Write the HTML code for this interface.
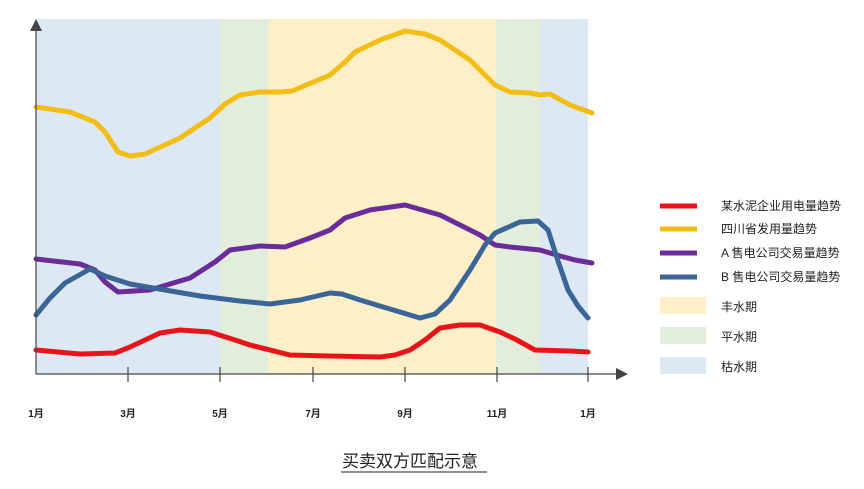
<!DOCTYPE html>
<html><head><meta charset="utf-8"><style>
body{margin:0;background:#fff;}
svg{display:block;font-family:"Liberation Sans","Noto Sans CJK SC",sans-serif;}
</style></head><body>
<svg width="864" height="489" viewBox="0 0 864 489">
<rect x="36" y="19" width="184" height="355" fill="#dde8f5"/>
<rect x="220" y="19" width="48" height="355" fill="#e2eddb"/>
<rect x="268" y="19" width="228" height="355" fill="#fdf0c9"/>
<rect x="496" y="19" width="44" height="355" fill="#e2eddb"/>
<rect x="540" y="19" width="48" height="355" fill="#dde8f5"/>
<g fill="none" stroke-width="5" stroke-linejoin="round" stroke-linecap="round">
<polyline stroke="#f4bd15" points="36,107 70,112 95,122 105,132 118,152 130,156 145,154 180,138 210,118 225,104 240,95 260,92 280,92 292,91 330,75 345,62 355,52 380,40 405,31 425,34 440,40 470,60 495,85 510,92 530,93 540,95 550,94 570,105 592,113"/>
<polyline stroke="#6a2c99" points="36,259 80,264 95,270 105,282 118,292 150,290 190,278 215,262 230,250 260,246 285,247 310,238 330,230 345,218 370,210 405,205 440,215 480,235 495,245 510,247 530,249 540,250 560,256 575,260 592,263"/>
<polyline stroke="#3a6596" points="36,315 50,298 65,283 90,269 105,276 130,284 200,296 240,301 270,304 300,300 330,293 342,294 360,300 400,312 420,318 435,314 450,300 470,270 485,245 495,233 520,222 538,221 548,230 557,258 568,290 578,306 588,318"/>
<polyline stroke="#e8141a" points="36,350 80,354 115,353 130,347 160,333 180,330 210,332 235,340 250,345 290,355 330,356 380,357 395,355 410,350 425,340 440,328 460,325 480,325 500,332 515,339 535,350 570,351 588,352"/>
</g>
<g stroke="#444" stroke-width="1.2">
<line x1="36" y1="374" x2="618" y2="374"/>
<line x1="36" y1="374" x2="36" y2="30"/>
<line x1="128" y1="367" x2="128" y2="382"/>
<line x1="220" y1="367" x2="220" y2="382"/>
<line x1="313" y1="367" x2="313" y2="382"/>
<line x1="405" y1="367" x2="405" y2="382"/>
<line x1="497" y1="367" x2="497" y2="382"/>
<line x1="588" y1="367" x2="588" y2="382"/>
</g>
<polygon points="30,31 42,31 36,19" fill="#444"/>
<polygon points="616,368 616,380 628,374" fill="#444"/>
<g font-size="10" fill="#222" font-weight="bold" text-anchor="middle">
<text x="36" y="417">1月</text><text x="128" y="417">3月</text><text x="220" y="417">5月</text>
<text x="313" y="417">7月</text><text x="405" y="417">9月</text><text x="497" y="417">11月</text><text x="588" y="417">1月</text>
</g>
<text x="342" y="467" font-size="17" fill="#222">买卖双方匹配示意</text>
<line x1="341" y1="472" x2="487" y2="472" stroke="#222" stroke-width="1"/>
<g stroke-width="5">
<line x1="660" y1="206" x2="697" y2="206" stroke="#e8141a"/>
<line x1="660" y1="229" x2="697" y2="229" stroke="#f4bd15"/>
<line x1="660" y1="253" x2="697" y2="253" stroke="#6a2c99"/>
<line x1="660" y1="277" x2="697" y2="277" stroke="#3a6596"/>
</g>
<rect x="660" y="297" width="46" height="17" fill="#fdf0c9"/>
<rect x="660" y="327" width="46" height="17" fill="#e2eddb"/>
<rect x="660" y="357" width="46" height="17" fill="#dde8f5"/>
<g font-size="12" fill="#222">
<text x="721" y="210">某水泥企业用电量趋势</text>
<text x="721" y="233">四川省发用量趋势</text>
<text x="721" y="257">A 售电公司交易量趋势</text>
<text x="721" y="281">B 售电公司交易量趋势</text>
<text x="721" y="311">丰水期</text>
<text x="721" y="341">平水期</text>
<text x="721" y="371">枯水期</text>
</g>
</svg>
</body></html>
